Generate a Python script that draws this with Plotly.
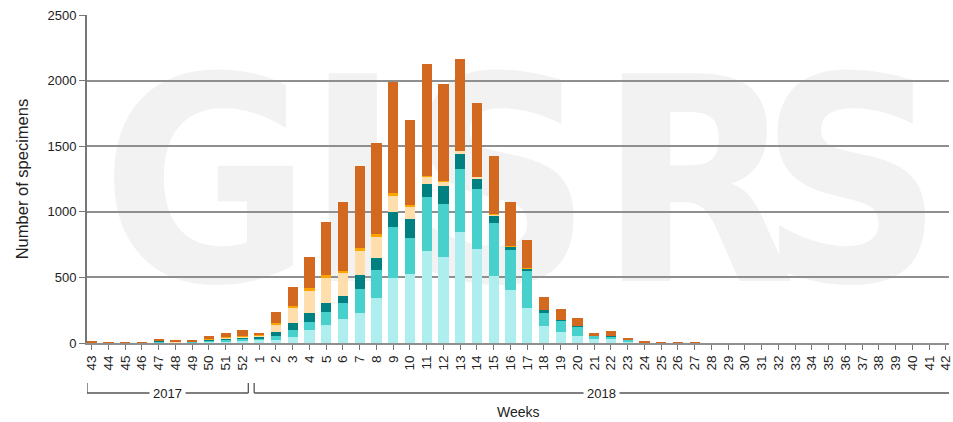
import plotly.graph_objects as go

# Epidemiological weeks: end of 2017 followed by 2018
weeks = [str(w) for w in range(43, 53)] + [str(w) for w in range(1, 43)]

# Specimens per week, by virus group (stacked bottom to top)
a_h1n1 = [0, 0, 1, 0, 3, 3, 3, 8, 12, 15,
          23, 25, 46, 96, 134, 183, 228, 342, 499, 527, 700, 659, 849, 715, 512, 406,
          266, 132, 81, 50, 30, 33, 12, 2, 1, 0, 0, 0, 0, 0, 0, 0,
          0, 0, 0, 0, 0, 0, 0, 0, 0, 0]
a_h3 = [0, 1, 2, 0, 10, 2, 5, 12, 15, 18,
        12, 30, 53, 66, 104, 122, 185, 215, 388, 272, 416, 399, 475, 459, 406, 304,
        284, 104, 94, 74, 20, 17, 14, 1, 0, 0, 0, 0, 0, 0, 0, 0,
        0, 0, 0, 0, 0, 0, 0, 0, 0, 0]
a_nst = [0, 0, 1, 0, 5, 0, 1, 3, 5, 10,
         13, 28, 56, 66, 66, 50, 104, 89, 114, 145, 94, 139, 116, 78, 51, 25,
         20, 13, 3, 2, 0, 3, 0, 0, 0, 0, 0, 0, 0, 0, 0, 0,
         0, 0, 0, 0, 0, 0, 0, 0, 0, 0]
b_nd = [1, 0, 0, 1, 0, 5, 4, 5, 8, 8,
        8, 58, 116, 172, 190, 178, 187, 160, 122, 101, 58, 35, 25, 15, 13, 3,
        2, 0, 1, 0, 0, 0, 0, 0, 0, 0, 0, 0, 0, 0, 0, 0,
        0, 0, 0, 0, 0, 0, 0, 0, 0, 0]
b_vic = [0, 0, 0, 0, 0, 0, 0, 2, 2, 3,
         2, 10, 15, 18, 23, 17, 23, 23, 23, 8, 5, 5, 3, 3, 2, 1,
         1, 0, 0, 0, 0, 0, 0, 0, 0, 0, 0, 0, 0, 0, 0, 0,
         0, 0, 0, 0, 0, 0, 0, 0, 0, 0]
b_yam = [7, 2, 1, 5, 5, 10, 8, 22, 33, 46,
         18, 88, 142, 240, 406, 523, 622, 697, 845, 647, 852, 741, 698, 559, 444, 335,
         215, 102, 84, 64, 26, 38, 12, 6, 3, 2, 2, 0, 0, 0, 0, 0,
         0, 0, 0, 0, 0, 0, 0, 0, 0, 0]

series = [
    ("A(H1N1)pdm09", a_h1n1, "paleturquoise"),
    ("A(H3)", a_h3, "mediumturquoise"),
    ("A (not subtyped)", a_nst, "teal"),
    ("B (lineage not determined)", b_nd, "navajowhite"),
    ("B Victoria", b_vic, "orange"),
    ("B Yamagata", b_yam, "chocolate"),
]

y_ticks = [0, 500, 1000, 1500, 2000, 2500]

FONT = "Liberation Sans, Arial, sans-serif"
GRID = "#8f8f8f"
TEXT = "#222222"

fig = go.Figure()
for name, vals, color in series:
    fig.add_trace(go.Bar(x=weeks, y=vals, name=name, marker_color=color,
                         marker_line_width=0, showlegend=False))

# plot-area geometry in pixels (for decoration placement)
L, R, T, B = 87, 953, 15, 343
W, H = R - L, B - T


def px(x):
    return (x - L) / W


def py(y):
    return (B - y) / H


shapes = []
# faint background watermark
for letter, cx in [("G", 207), ("I", 354), ("S", 502), ("R", 700), ("S", 855)]:
    shapes.append(dict(
        type="rect", xref="paper", yref="paper",
        x0=px(cx) - 0.01, x1=px(cx) + 0.01, y0=py(162) - 0.01, y1=py(162) + 0.01,
        line=dict(width=0), fillcolor="rgba(0,0,0,0)", layer="below",
        label=dict(text=letter, textposition="middle center",
                   font=dict(family="Liberation Sans Narrow, DejaVu Sans Condensed, Liberation Sans",
                             size=285, color="#f2f2f2", weight="bold")),
    ))

# year brackets under the week labels
n_weeks_2017 = 10
left0, left1 = -0.28, n_weeks_2017 - 0.65
right0, right1 = n_weeks_2017 - 0.3, len(weeks) - 1 + 0.18
yb, yt = py(393), py(383)
br = dict(color="#555555", width=1.3)
for x0, x1, ends in [(left0, left1, (True, True)), (right0, right1 + 1, (True, False))]:
    shapes.append(dict(type="line", xref="x", yref="paper", x0=x0, x1=x1, y0=yb, y1=yb, line=br))
    if ends[0]:
        shapes.append(dict(type="line", xref="x", yref="paper", x0=x0, x1=x0, y0=yb, y1=yt, line=br))
    if ends[1]:
        shapes.append(dict(type="line", xref="x", yref="paper", x0=x1, x1=x1, y0=yb, y1=yt, line=br))

annotations = [
    dict(text="2017", xref="x", yref="paper", x=(left0 + left1) / 2, y=yb,
         xanchor="center", yanchor="middle",
         showarrow=False, bgcolor="white", borderpad=3,
         font=dict(family=FONT, size=13, color=TEXT)),
    dict(text="2018", xref="x", yref="paper", x=(right0 + right1) / 2, y=yb,
         xanchor="center", yanchor="middle",
         showarrow=False, bgcolor="white", borderpad=3,
         font=dict(family=FONT, size=13, color=TEXT)),
    dict(text="Weeks", xref="paper", yref="paper", x=0.5, y=py(412),
         xanchor="center", yanchor="middle",
         showarrow=False, font=dict(family=FONT, size=14, color=TEXT)),
    dict(text="Number of specimens", xref="paper", yref="paper", x=px(22), y=0.5,
         xanchor="center", yanchor="middle",
         textangle=-90, showarrow=False, font=dict(family=FONT, size=16.5, color=TEXT)),
]

fig.update_layout(
    barmode="stack",
    bargap=0.38,
    width=953, height=422,
    margin=dict(l=L, r=0, t=T, b=422 - B, pad=0),
    plot_bgcolor="white", paper_bgcolor="white",
    font=dict(family=FONT, size=13, color=TEXT),
    shapes=shapes,
    annotations=annotations,
    xaxis=dict(
        type="category", range=[-0.28, len(weeks) - 1 + 0.18],
        tickangle=-90, tickfont=dict(size=13.5, color=TEXT),
        ticks="outside", ticklen=5, tickcolor="#777777", tickwidth=1,
        showline=True, linecolor=GRID, linewidth=2,
        showgrid=False, fixedrange=True,
    ),
    yaxis=dict(
        range=[0, 2502], tickvals=y_ticks,
        ticks="outside", ticklen=6, tickcolor="#777777", tickwidth=1,
        tickfont=dict(size=13, color=TEXT),
        showgrid=True, gridcolor=GRID, gridwidth=2,
        showline=True, linecolor="#777777", linewidth=2,
        zeroline=False, fixedrange=True,
    ),
)

fig.write_html("out.html")
